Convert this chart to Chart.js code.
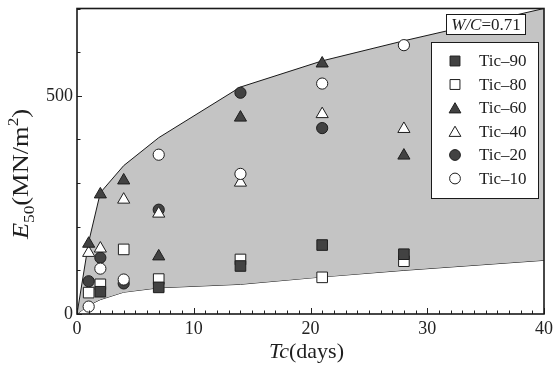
<!DOCTYPE html>
<html>
<head>
<meta charset="utf-8">
<script src="https://cdn.jsdelivr.net/npm/chart.js@4.4.1/dist/chart.umd.min.js"></script>
<style>
  html, body { margin: 0; padding: 0; background: #fff; }
  #wrap { width: 553px; height: 372px; }
</style>
</head>
<body>
<div id="wrap"><canvas id="e50Chart" width="553" height="372"></canvas></div>
<script>
// curing time (days) and E50 (MN/m2) per mix
var days = [1, 2, 4, 7, 14, 21, 28];
var tic90 = [null, 51, null, 61, 110, 158, 137];
var tic80 = [49, 68, 148, 80, 125, 84, 121];
var tic60 = [161, 274, 306, 132, 450, 574, 363];
var tic40 = [140, 150, 262, 230, 301, 458, 424];
var tic20 = [75, 129, 70, 239, 507, 426, null];
var tic10 = [17, 104, 79, 365, 321, 528, 616];

// shaded band limits
var envDays = [0, 1, 2, 4, 7, 14, 21, 28, 40];
var envUpper = [0, 165, 278, 340, 404, 520, 580, 626, 700];
var envLower = [0, 20, 33, 50, 60, 68, 85, 100, 123];

var names = ["Tic\u201390", "Tic\u201380", "Tic\u201360", "Tic\u201340", "Tic\u201320", "Tic\u201310"];
var xLabels = [0, 10, 20, 30, 40];
var yLabels = [0, 500];
var wcText = "0.71";

(function () {
  var SERIF = "'Liberation Serif', 'Times New Roman', serif";
  var dark = "#424242",
    edge = "#1e1e1e",
    band = "#c4c4c4";

  function pts(xs, ys) {
    var out = [];
    for (var i = 0; i < xs.length; i++) {
      if (ys[i] !== null) out.push({ x: xs[i], y: ys[i] });
    }
    return out;
  }

  var styles = [
    { pointStyle: "rect", radius: 7.5, fill: dark },
    { pointStyle: "rect", radius: 7.5, fill: "#fff" },
    { pointStyle: "triangle", radius: 7, fill: dark },
    { pointStyle: "triangle", radius: 7, fill: "#fff" },
    { pointStyle: "circle", radius: 5.6, fill: dark },
    { pointStyle: "circle", radius: 5.6, fill: "#fff" },
  ];
  var series = [tic90, tic80, tic60, tic40, tic20, tic10];

  var datasets = series.map(function (s, i) {
    var st = styles[i];
    return {
      label: names[i],
      data: pts(days, s),
      pointStyle: st.pointStyle,
      pointRadius: st.radius,
      pointBackgroundColor: st.fill,
      pointBorderColor: edge,
      pointBorderWidth: 1,
      showLine: false,
      order: i === 5 ? -1 : 0,
    };
  });

  datasets.push({
    label: "upper",
    data: pts(envDays, envUpper),
    showLine: true,
    borderColor: "#1a1a1a",
    borderWidth: 1,
    pointRadius: 0,
    tension: 0,
    fill: "+1",
    backgroundColor: band,
    order: 10,
  });
  datasets.push({
    label: "lower",
    data: pts(envDays, envLower),
    showLine: true,
    borderColor: "#1a1a1a",
    borderWidth: 1,
    pointRadius: 0,
    tension: 0,
    fill: false,
    order: 10,
  });

  function partFont(p, size) {
    var s = p.sub || p.sup ? Math.round(size * 0.64) : size;
    return (p.it ? "italic " : "") + s + "px " + SERIF;
  }

  function richText(ctx, parts, x, y, size) {
    var w = 0;
    parts.forEach(function (p) {
      ctx.font = partFont(p, size);
      w += ctx.measureText(p.t).width;
    });
    var cx = x - w / 2;
    ctx.textAlign = "left";
    ctx.textBaseline = "alphabetic";
    parts.forEach(function (p) {
      ctx.font = partFont(p, size);
      var dy = p.sub ? size * 0.26 : p.sup ? -size * 0.42 : 0;
      ctx.fillText(p.t, cx, y + dy);
      cx += ctx.measureText(p.t).width;
    });
  }

  var decor = {
    id: "decor",
    afterDatasetsDraw: function (chart) {
      var ctx = chart.ctx,
        a = chart.chartArea,
        xs = chart.scales.x,
        ys = chart.scales.y;
      ctx.save();
      ctx.strokeStyle = "#222";
      ctx.lineWidth = 1;
      ctx.beginPath();
      xs.ticks.forEach(function (t) {
        var px = Math.round(xs.getPixelForValue(t.value)) + 0.5;
        var len = t.value % 10 === 0 ? 6 : 3.5;
        ctx.moveTo(px, a.bottom);
        ctx.lineTo(px, a.bottom - len);
      });
      ys.ticks.forEach(function (t) {
        var py = Math.round(ys.getPixelForValue(t.value)) + 0.5;
        var len = t.value % 500 === 0 ? 5 : 3.5;
        ctx.moveTo(a.left, py);
        ctx.lineTo(a.left + len, py);
      });
      ctx.stroke();
      ctx.lineWidth = 1.6;
      ctx.strokeStyle = "#1a1a1a";
      ctx.strokeRect(a.left, a.top, a.right - a.left, a.bottom - a.top);
      ctx.restore();
    },
    afterDraw: function (chart) {
      var ctx = chart.ctx,
        a = chart.chartArea;
      ctx.save();
      ctx.fillStyle = "#1e1e1e";

      // axis titles
      richText(ctx, [{ t: "Tc", it: true }, { t: "(days)" }], (a.left + a.right) / 2 - 4, 358, 22);
      ctx.save();
      ctx.translate(28, 174);
      ctx.rotate(-Math.PI / 2);
      ctx.scale(1.15, 1);
      richText(ctx, [{ t: "E", it: true }, { t: "50", sub: true }, { t: "(MN/m" }, { t: "2", sup: true }, { t: ")" }], 0, 0, 23);
      ctx.restore();

      // W/C box
      ctx.fillStyle = "#fff";
      ctx.fillRect(446, 14, 79, 20);
      ctx.strokeStyle = "#1a1a1a";
      ctx.lineWidth = 1;
      ctx.strokeRect(446.5, 14.5, 79, 20);
      ctx.fillStyle = "#1e1e1e";
      richText(ctx, [{ t: "W/C", it: true }, { t: "=" + wcText }], 486, 30, 17);

      // legend
      var lx = 431, ly = 42, lw = 107, lh = 156;
      ctx.fillStyle = "#fff";
      ctx.fillRect(lx, ly, lw, lh);
      ctx.strokeRect(lx + 0.5, ly + 0.5, lw, lh);
      for (var i = 0; i < names.length; i++) {
        var cy = 61 + i * 23.5;
        var st = styles[i];
        ctx.fillStyle = st.fill;
        ctx.strokeStyle = edge;
        ctx.lineWidth = 1;
        Chart.helpers.drawPoint(ctx, { pointStyle: st.pointStyle, radius: st.pointStyle === "circle" ? 5.4 : st.pointStyle === "rect" ? 7 : 6.8, rotation: 0, borderWidth: 1 }, 455, cy + (st.pointStyle === "triangle" ? 1.5 : 0));
        ctx.fillStyle = "#1e1e1e";
        ctx.font = "17px " + SERIF;
        ctx.textAlign = "left";
        ctx.textBaseline = "middle";
        ctx.fillText(names[i], 479, cy + 1);
      }
      ctx.restore();
    },
  };

  function initChart() {
    var el = document.getElementById("e50Chart");
    new Chart(el, {
      type: "scatter",
      data: { datasets: datasets },
      plugins: [decor],
      options: {
        responsive: false,
        animation: false,
        layout: { padding: { top: 7, right: 9, left: 0, bottom: 0 } },
        plugins: { legend: { display: false }, tooltip: { enabled: false } },
        scales: {
          x: {
            type: "linear",
            min: 0,
            max: 40,
            afterFit: function (s) {
              s.height = 58;
              s.paddingLeft = 0;
              s.paddingRight = 0;
            },
            grid: { display: false, drawTicks: false },
            border: { display: false },
            ticks: {
              stepSize: 1,
              autoSkip: false,
              maxRotation: 0,
              padding: 4,
              color: "#222",
              font: { family: SERIF, size: 18 },
              callback: function (v) {
                return xLabels.indexOf(v) >= 0 ? String(v) : "";
              },
            },
          },
          y: {
            type: "linear",
            min: 0,
            max: 700,
            afterFit: function (s) {
              s.width = 77;
              s.paddingTop = 0;
              s.paddingBottom = 0;
            },
            grid: { display: false, drawTicks: false },
            border: { display: false },
            ticks: {
              stepSize: 100,
              autoSkip: false,
              padding: 4,
              color: "#222",
              font: { family: SERIF, size: 18 },
              callback: function (v) {
                return yLabels.indexOf(v) >= 0 ? String(v) : "";
              },
            },
          },
        },
      },
    });
  }

  window.addEventListener("load", function () {
    initChart();
  });
})();
</script>
</body>
</html>
